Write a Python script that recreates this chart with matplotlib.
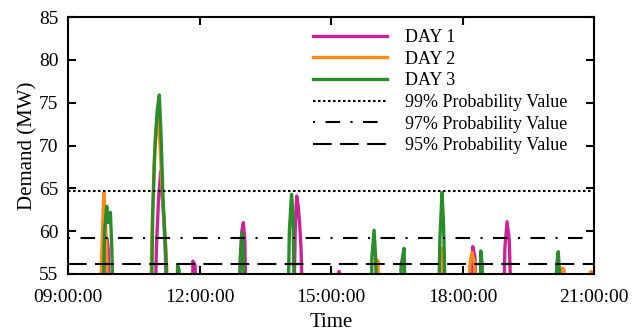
import pandas as pd
import matplotlib.pyplot as plt
import matplotlib.dates as mdates

# 字体 (Times 风格)
plt.rcParams['font.family'] = ['Liberation Serif', 'DejaVu Serif']

# 数据: 时间 (HH:MM) 与需求 (MW)，低于 55 的点画在坐标轴以外
day1_t = ['09:00', '09:50', '09:51', '09:53', '09:55', '09:57',
          '10:59', '11:01', '11:04', '11:07', '11:09', '11:11', '11:13', '11:16',
          '11:50', '11:51', '11:54', '11:55',
          '12:54', '12:56', '12:58', '13:00', '13:02', '13:04',
          '14:09', '14:11', '14:13', '14:15', '14:17', '14:19', '14:21',
          '15:10', '15:11', '15:12',
          '18:12', '18:14', '18:17', '18:19',
          '18:56', '18:58', '19:01', '19:04', '19:07', '21:00']
day1_v = [50, 50, 57, 59.2, 58, 50,
          50, 58, 64, 67, 64, 61.7, 58, 50,
          50, 56.5, 56, 50,
          50, 57, 60, 61, 59, 50,
          50, 60, 64.1, 63, 61, 58, 50,
          50, 55.3, 50,
          50, 58.2, 57, 50,
          50, 58, 61.1, 59, 50, 50]

day2_t = ['09:00', '09:45', '09:46', '09:48', '09:49', '09:51', '09:53', '09:55',
          '10:53', '10:55', '10:58', '11:01', '11:03', '11:06', '11:10', '11:14', '11:18',
          '16:03', '16:04', '16:05',
          '17:30', '17:31', '17:32', '17:34', '17:36',
          '18:08', '18:10', '18:13', '18:16', '18:20',
          '20:16', '20:17', '20:19', '20:20',
          '20:55', '20:56', '20:57', '21:00']
day2_v = [50, 50, 57, 62, 64.5, 62, 57, 50,
          50, 60, 68, 72, 73.8, 70, 63, 58, 50,
          50, 56.6, 50,
          50, 56, 58, 56, 50,
          50, 56, 57.5, 56.5, 50,
          50, 55.7, 55.5, 50,
          50, 55.3, 50, 50]

day3_t = ['09:00', '09:48', '09:50', '09:53', '09:55', '09:58', '10:00', '10:02',
          '10:54', '10:56', '10:59', '11:02', '11:05', '11:07', '11:10', '11:14', '11:17',
          '11:29', '11:30', '11:32', '11:33',
          '12:54', '12:56', '12:58', '13:00', '13:02',
          '14:01', '14:03', '14:06', '14:08', '14:10',
          '15:55', '15:56', '15:59', '16:01', '16:03',
          '16:34', '16:36', '16:40', '16:42',
          '17:27', '17:29', '17:32', '17:34', '17:37',
          '18:24', '18:25', '18:27', '18:28',
          '20:07', '20:09', '20:11', '20:13', '20:15', '21:00']
day3_v = [50, 50, 60, 62.9, 61, 62.2, 58, 50,
          50, 62, 70, 74, 75.9, 72, 64, 57, 50,
          50, 56, 55.5, 50,
          50, 57, 59.8, 58, 50,
          50, 60, 64.3, 62, 50,
          50, 57, 60.1, 57, 50,
          50, 56, 58, 50,
          50, 59, 64.5, 61, 50,
          50, 57.7, 56, 50,
          50, 56, 57.6, 55, 50, 50]

p99 = 64.7
p97 = 59.2
p95 = 56.2


def to_time(ts):
    return pd.to_datetime(['2000-01-01 ' + t for t in ts])


fig = plt.figure(figsize=(6.32, 3.35), dpi=100)
ax = fig.add_axes([68 / 632, 1 - 274 / 335, 526 / 632, 257 / 335])

ax.plot(to_time(day1_t), day1_v, color='#CC2295', lw=2.4, label='DAY 1')
ax.plot(to_time(day2_t), day2_v, color='#FF8A1C', lw=2.4, label='DAY 2')
ax.plot(to_time(day3_t), day3_v, color='#2A8C2A', lw=2.4, label='DAY 3')

ax.axhline(p99, color='black', lw=1.5, ls=(0, (1.2, 1.2)), label='99% Probability Value')
ax.axhline(p97, color='black', lw=1.5, ls=(0, (1, 5, 7, 5)), label='97% Probability Value')
ax.axhline(p95, color='black', lw=1.5, ls=(0, (9, 4)), label='95% Probability Value')

start = pd.Timestamp('2000-01-01 09:00')
end = pd.Timestamp('2000-01-01 21:00')
ax.set_xlim(start, end)
ax.set_ylim(55, 85)
ax.set_xticks(pd.date_range(start, end, freq='3h'))
ax.xaxis.set_major_formatter(mdates.DateFormatter('%H:%M:%S'))
ax.set_yticks(range(55, 86, 5))

ax.tick_params(direction='in', length=6, width=1.5, top=True, right=True, labelsize=14)
ax.tick_params(axis='x', pad=11)
ax.tick_params(axis='y', pad=7)
for s in ax.spines.values():
    s.set_linewidth(1.5)

ax.set_xlabel('Time', fontsize=15, labelpad=5)
ax.set_ylabel('Demand (MW)', fontsize=15, labelpad=1)

ax.legend(loc='upper left', bbox_to_anchor=((313 - 68) / 526, 1 - 12 / 257),
          frameon=False, fontsize=13, handlelength=4.1, handletextpad=1.0,
          labelspacing=0.26, borderpad=0, borderaxespad=0)

plt.savefig('out.png', dpi=100)
